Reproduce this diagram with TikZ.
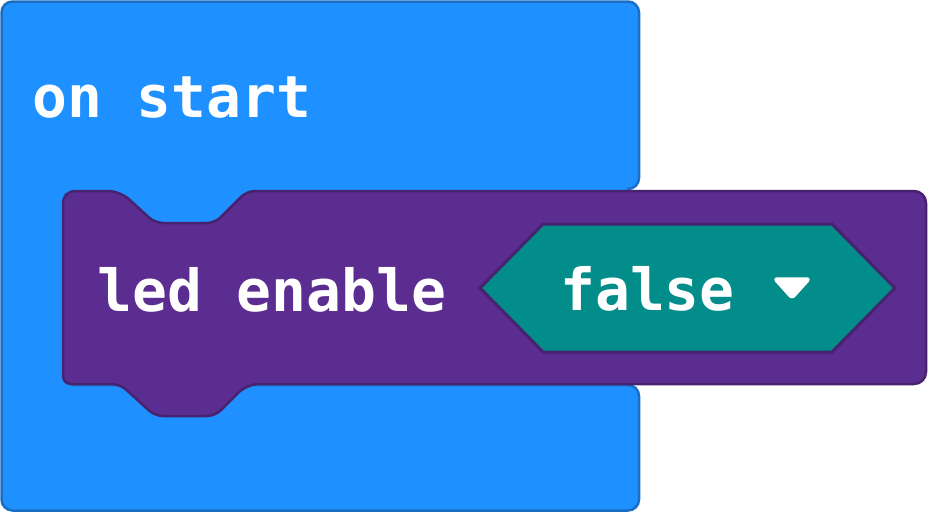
\documentclass[tikz,border=0pt]{standalone}
\usepackage{fontspec}
\setmonofont{DejaVu Sans Mono}
\definecolor{blkblue}{HTML}{1E90FF}
\definecolor{blkbluedark}{HTML}{1A6FC4}
\definecolor{blkpurple}{HTML}{5C2D91}
\definecolor{blkpurpledark}{HTML}{46226F}
\definecolor{blkteal}{HTML}{028C8A}
\tikzset{
  blueblk/.style={fill=blkblue, draw=blkbluedark, line width=2.5pt, line join=round},
  bluefill/.style={fill=blkblue, draw=none},
  purpleblk/.style={fill=blkpurple, draw=blkpurpledark, line width=2.5pt, line join=round},
  hexblk/.style={fill=blkteal, draw=blkpurpledark, line width=3pt, line join=miter},
  lbl/.style={text=white, font=\ttfamily\bfseries\fontsize{58}{58}\selectfont, inner sep=0pt, anchor=base west},
  ddarrow/.style={fill=white, draw=white, line width=2.5pt, rounded corners=3pt, line join=round}
}
\begin{document}
\begin{tikzpicture}[x=1pt,y=-1pt]
\useasboundingbox (0,0) rectangle (928,512);
% hat block (on start) C-shape
\draw[blueblk, rounded corners=11pt] (300,1.5) -- (639,1.5) -- (639,189) -- (64,189) -- (64,385) -- (639,385) -- (639,510.5) -- (1.5,510.5) -- (1.5,1.5) -- cycle;
% blue showing through the notch of the statement block
\fill[bluefill] (66,180) rectangle (627,240);
% statement block (led enable)
\draw[purpleblk, rounded corners=12pt]
  (400,191) -- (926,191) -- (926,384) -- (247,384) [rounded corners=8pt] -- (215,416) -- (155,416) -- (120,384) -- (63,384) [rounded corners=12pt] -- (63,191) -- (120,191) [rounded corners=8pt] -- (155,223) -- (215,223) -- (247,191) [rounded corners=12pt] -- cycle;
% boolean hexagon
\draw[hexblk] (480,288) -- (543,224) -- (832,224) -- (895,288) -- (832,352) -- (543,352) -- cycle;
% dropdown arrow
\draw[ddarrow] (774,278.5) -- (810,278.5) -- (792,298.5) -- cycle;
% labels
\node[lbl] (onstart) at (32,117) {on start};
\node[lbl] (ledenable) at (97,311) {led enable};
\node[lbl] (false) at (560,310) {false};
\end{tikzpicture}
\end{document}
